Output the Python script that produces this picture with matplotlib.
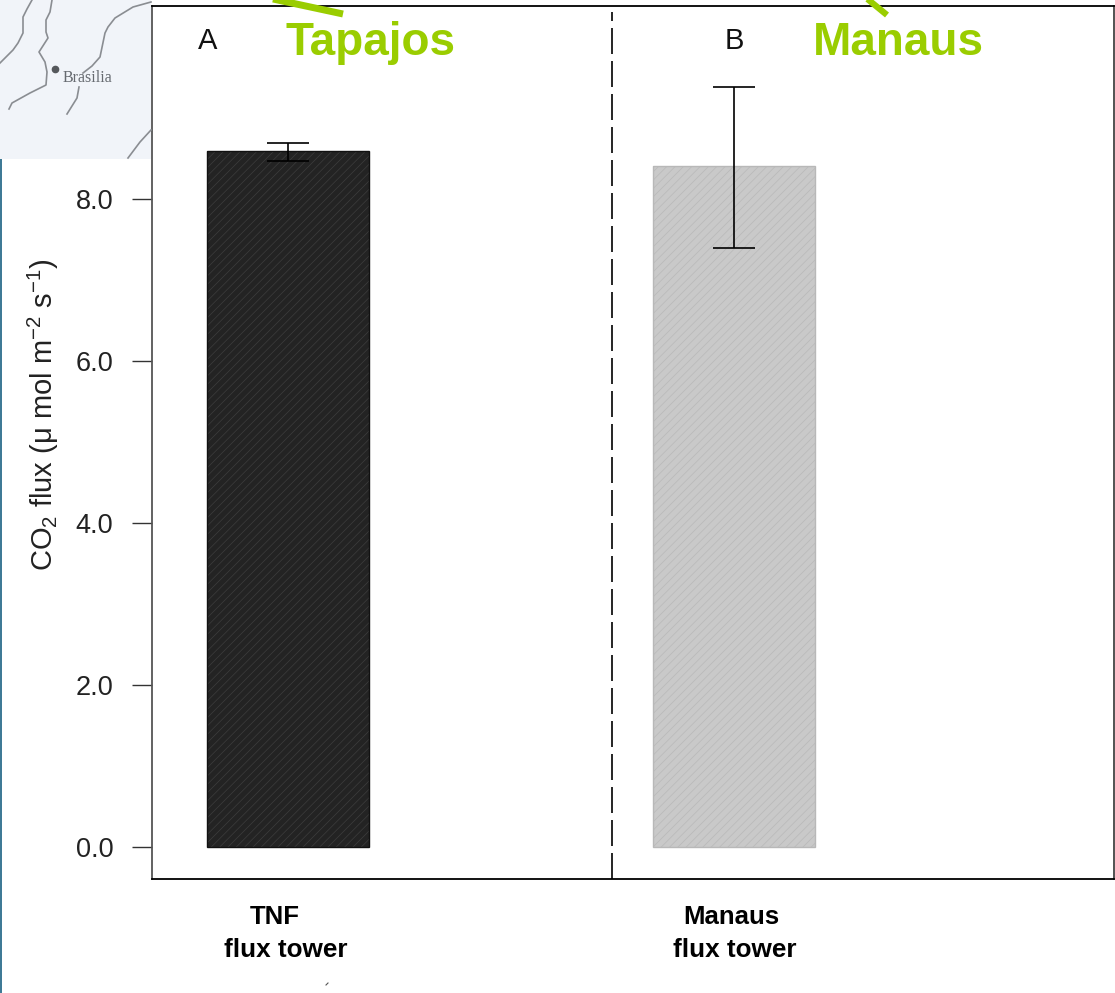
import matplotlib
matplotlib.use("Agg")
import matplotlib.pyplot as plt
from matplotlib.patches import Rectangle

plt.rcParams['font.family'] = ['Liberation Sans', 'DejaVu Sans']
plt.rcParams['mathtext.fontset'] = 'custom'
plt.rcParams['mathtext.rm'] = 'Liberation Sans'
plt.rcParams['mathtext.it'] = 'Liberation Sans'
plt.rcParams['mathtext.bf'] = 'Liberation Sans:bold'
plt.rcParams['hatch.linewidth'] = 0.5

category_top = ["TNF", "Manaus"]
category_bottom = ["flux tower", "flux tower"]
panel_letters = ["A", "B"]
site_names = ["Tapajos", "Manaus"]
flux = [8.59, 8.40]
err_low = [8.47, 7.39]
err_high = [8.69, 9.38]
yticks = [0.0, 2.0, 4.0, 6.0, 8.0]
bar_fill = ["#232323", "#c9c9c9"]
bar_hatch = ["#3d3d3d", "#b8b8b8"]
bar_edge = ["#111111", "#b8b8b8"]

# Decoration: background map fragment, in its own pixel space
map_lines = [
    [(32, 0), (27, 9), (23, 17), (23, 33), (18, 43), (13, 50), (0, 63)],
    [(52, 0), (50, 12), (46, 20), (46, 32), (48, 38), (39, 52), (45, 62), (47, 72), (46, 85), (30, 93), (12, 103), (9, 109)],
    [(151, 2), (133, 7), (115, 18), (108, 27), (105, 33), (100, 57), (92, 66), (83, 73)],
    [(79, 87), (77, 98), (67, 114)],
    [(151, 130), (140, 142), (128, 158)],
]
city = (55, 68.5)

W, H = 1115, 993
fig = plt.figure(figsize=(W / 100, H / 100), dpi=100)
L, R, T, B = 151.5, 1114, 6, 878.5
ax = fig.add_axes([L / W, 1 - B / H, (R - L) / W, (B - T) / H])

ax.set_xlim(-0.306, 1.851)
ax.set_ylim(-0.388, 10.38)
x = [0, 1]
for i in x:
    ax.bar(i, flux[i], width=0.364, facecolor=bar_fill[i], edgecolor=bar_hatch[i],
           hatch='////', linewidth=0, zorder=2)
    ax.bar(i, flux[i], width=0.364, fill=False, edgecolor=bar_edge[i], linewidth=1.0, zorder=3)
    ax.errorbar(i, flux[i], yerr=[[flux[i] - err_low[i]], [err_high[i] - flux[i]]],
                color='black', elinewidth=1.2, capsize=15, capthick=1.2, zorder=4)
    ax.text(i - 0.18 if i == 0 else i, 9.95, panel_letters[i], fontsize=21, ha='center', va='center', color='#111111')

ax.axvline(0.727, ymin=0.0, ymax=0.993, color='black', lw=1.2, dashes=(15.6, 4.2), zorder=1)

ax.set_yticks(yticks)
ax.set_yticklabels([f"{v:.1f}" for v in yticks], fontsize=19.5, color='#222222')
ax.tick_params(axis='y', length=14.5, width=1.0, pad=13, color='#333333')
ax.set_xticks([])
for s in ax.spines.values():
    s.set_linewidth(1.3)
    s.set_color('black')
ax.spines['left'].set_color('#555555')
ax.spines['right'].set_color('#444444')

fig.text(43 / W, 1 - 415 / H,
         r'CO$_{2}$ flux ($\mathrm{\mu}$ mol m$^{-2}$ s$^{-1}$)',
         rotation=90, fontsize=21, ha='center', va='center', color='#222222')

for cx, cx2, top, bottom in zip([275, 731.5], [286, 734.5], category_top, category_bottom):
    fig.text(cx / W, 1 - 917 / H, top, fontsize=18.5, fontweight='bold', ha='center', va='center', color='black')
    fig.text(cx2 / W, 1 - 950 / H, bottom, fontsize=18.8, fontweight='bold', ha='center', va='center', color='black')

# Overlay in pixel space
ov = fig.add_axes([0, 0, 1, 1], zorder=5)
ov.set_xlim(0, W)
ov.set_ylim(H, 0)
ov.axis('off')
ov.patch.set_alpha(0)
ov.add_patch(Rectangle((0, 0), 151, 158.5, facecolor='#f1f4f9', edgecolor='none'))
ov.add_patch(Rectangle((0, 158.5), 2, H - 158.5, facecolor='#3f7a96', edgecolor='none'))
for line in map_lines:
    ov.plot([p[0] for p in line], [p[1] for p in line], color='#8a8d92', lw=1.2)
ov.plot(*city, 'o', color='#55585c', ms=4.5)
ov.text(63, 78.5, "Brasilia", family='Liberation Serif', fontsize=11.5, va='center', ha='left', color='#666a70')
ov.plot([326, 328], [985, 983], color='#555555', lw=0.8)

green = '#9acd00'
ov.text(370.5, 43, site_names[0], fontsize=33, fontweight='bold', color=green, ha='center', va='center')
ov.text(898.5, 43, site_names[1], fontsize=33, fontweight='bold', color=green, ha='center', va='center')
ov.plot([273, 343], [-1, 14], color=green, lw=5, solid_capstyle='butt')
ov.plot([865, 887], [-3, 15], color=green, lw=4.5, solid_capstyle='butt')

fig.savefig("out.png", dpi=100)
